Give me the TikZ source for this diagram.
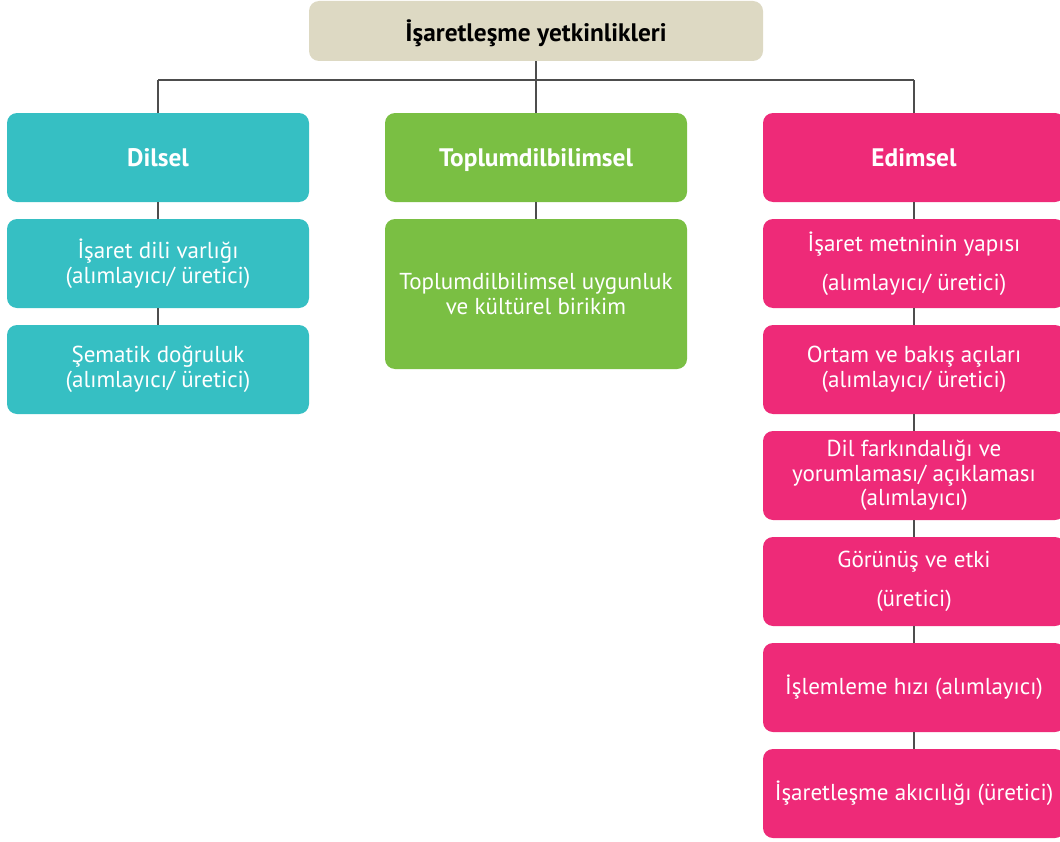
\documentclass[tikz,border=0pt]{standalone}
\usepackage{fontspec}
\setmainfont{PT Sans}
\definecolor{topc}{HTML}{DDD9C3}
\definecolor{tealc}{HTML}{36BFC3}
\definecolor{greenc}{HTML}{7ABF43}
\definecolor{pinkc}{HTML}{EE2A78}
\definecolor{linec}{HTML}{4D4D4D}
\begin{document}
\begin{tikzpicture}[x=0.75pt,y=-0.75pt,
  box/.style={rounded corners=7.5pt, minimum width=226.5pt, minimum height=66.75pt,
    inner sep=0pt, align=center, text=white, font=\fontsize{17.3}{18.5}\selectfont},
  head/.style={box, font=\fontsize{19}{20}\selectfont\bfseries, text height=14pt, text depth=1.25pt},
  tealbox/.style={box, fill=tealc},
  greenbox/.style={box, fill=greenc},
  pinkbox/.style={box, fill=pinkc},
  conn/.style={draw=linec, line width=1.3pt}]
\useasboundingbox (0,0) rectangle (1060,842);
\begin{scope}
\clip (0,0) rectangle (1060,842);
% connectors
\coordinate (busL) at (158,80);
\coordinate (busR) at (914,80);
\node[head, fill=topc, text=black, minimum width=340.5pt, minimum height=45pt, text height=16.5pt, text depth=0.5pt] (top) at (536,31) {İşaretleşme yetkinlikleri};
\node[head, fill=tealc] (dil) at (158,157.5) {Dilsel};
\node[head, fill=greenc] (tdb) at (536,157.5) {Toplumdilbilimsel};
\node[head, fill=pinkc] (edim) at (914,157.5) {Edimsel};
\draw[conn] (busL) -- (busR);
\draw[conn] (top.south) -- (tdb.north);
\draw[conn] (busL) -- (dil.north);
\draw[conn] (busR) -- (edim.north);
% left column
\node[tealbox] (d1) at (158,263.5) {İşaret dili varlığı\\(alımlayıcı/ üretici)};
\node[tealbox] (d2) at (158,369.5) {Şematik doğruluk\\(alımlayıcı/ üretici)};
\draw[conn] (dil) -- (d1);
\draw[conn] (d1) -- (d2);
% middle column
\node[greenbox, minimum height=112.5pt] (t1) at (536,294) {Toplumdilbilimsel uygunluk\\ve kültürel birikim};
\draw[conn] (tdb) -- (t1);
% right column
\node[pinkbox] (e1) at (914,263.5) {İşaret metninin yapısı\\[11pt](alımlayıcı/ üretici)};
\node[pinkbox] (e2) at (914,369.5) {Ortam ve bakış açıları\\(alımlayıcı/ üretici)};
\node[pinkbox] (e3) at (914,475.5) {Dil farkındalığı ve\\yorumlaması/ açıklaması\\(alımlayıcı)};
\node[pinkbox] (e4) at (914,581.5) {Görünüş ve etki\\[11pt](üretici)};
\node[pinkbox] (e5) at (914,687.5) {İşlemleme hızı (alımlayıcı)};
\node[pinkbox] (e6) at (914,793.5) {İşaretleşme akıcılığı (üretici)};
\draw[conn] (edim) -- (e1);
\draw[conn] (e1) -- (e2);
\draw[conn] (e2) -- (e3);
\draw[conn] (e3) -- (e4);
\draw[conn] (e4) -- (e5);
\draw[conn] (e5) -- (e6);
\end{scope}
\end{tikzpicture}
\end{document}
